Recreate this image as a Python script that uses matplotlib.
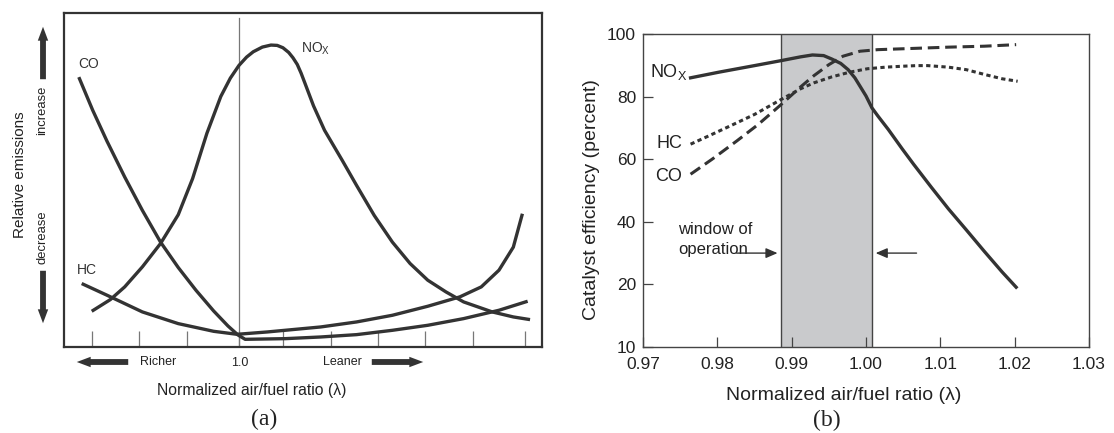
import matplotlib
matplotlib.use("Agg")
from matplotlib import pyplot as plt

plt.rcParams["font.family"] = ["Liberation Sans", "DejaVu Sans"]
plt.rcParams["mathtext.fontset"] = "custom"
plt.rcParams["mathtext.rm"] = "Liberation Sans"
plt.rcParams["mathtext.default"] = "regular"

INK = "#333333"
W, H = 1114, 433

# ---- panel (a): relative emissions, arbitrary units (0-100 of the frame)
a_ticks = [5.8, 15.7, 25.7, 36.6, 45.8, 55.8, 65.7, 75.6, 85.6, 96.5]
a_stoich = 36.6

a_co_x = [3.1, 6.0, 9.0, 12.7, 16.4, 20.2, 23.9, 27.6, 31.3, 34.3, 36.4, 37.9,
          46.3, 53.7, 61.2, 68.7, 76.1, 83.6, 91.0, 97.0]
a_co_y = [80.8, 70.9, 61.6, 50.9, 40.9, 31.4, 23.8, 17.0, 10.8, 6.3, 3.6, 2.3,
          2.5, 3.0, 3.7, 5.0, 6.5, 8.5, 11.0, 13.7]

a_hc_x = [3.7, 9.0, 16.4, 23.9, 31.3, 36.2, 42.5, 53.7, 61.2, 68.7, 76.1,
          82.8, 87.3, 91.0, 94.0, 95.9]
a_hc_y = [19.0, 15.5, 10.5, 7.0, 4.7, 3.8, 4.5, 6.0, 7.5, 9.5, 12.2,
          15.0, 18.0, 23.0, 29.9, 39.9]

a_nox_x = [5.8, 9.7, 12.7, 16.4, 20.2, 23.9, 26.9, 29.9, 32.8, 34.8, 36.6,
           38.2, 39.6, 41.5, 43.3, 44.6, 45.8, 47.0, 47.9, 48.8, 49.6, 50.4,
           52.2, 54.5, 58.2, 61.2, 64.9, 68.7, 72.4, 76.1, 79.9, 83.6, 89.6,
           94.0, 97.5]
a_nox_y = [10.7, 14.2, 18.0, 24.0, 31.0, 39.6, 50.4, 64.0, 75.0, 80.5, 84.3,
           86.8, 88.4, 89.8, 90.4, 90.3, 89.6, 88.2, 86.6, 84.6, 82.0, 79.0,
           72.2, 64.9, 55.9, 48.4, 39.4, 31.4, 25.0, 20.0, 16.5, 13.5, 10.5,
           9.0, 8.2]

# ---- panel (b): catalyst efficiency vs lambda
b_nox_x = [0.9764, 0.9802, 0.9850, 0.9886, 0.9912, 0.9928, 0.9943, 0.9954,
           0.9966, 0.9976, 0.9985, 0.9992, 1.0000, 1.0008, 1.0016, 1.0030,
           1.0049, 1.0064, 1.0088, 1.0111, 1.0135, 1.0159, 1.0183, 1.0202]
b_nox_y = [86.0, 87.8, 89.9, 91.5, 92.7, 93.3, 93.1, 92.0, 90.6, 88.6, 86.0,
           83.3, 80.2, 76.4, 73.8, 69.5, 63.2, 58.4, 51.0, 44.1, 37.4, 30.6,
           24.0, 19.1]

b_hc_x = [0.9764, 0.9788, 0.9817, 0.9850, 0.9886, 0.9912, 0.9930, 0.9954,
          0.9978, 1.0002, 1.0026, 1.0049, 1.0068, 1.0083, 1.0111, 1.0135,
          1.0159, 1.0183, 1.0204]
b_hc_y = [64.8, 67.4, 70.6, 74.3, 79.1, 82.5, 84.4, 86.3, 87.8, 88.9, 89.4,
          89.7, 89.9, 89.9, 89.4, 88.6, 87.1, 85.7, 84.9]

b_co_x = [0.9764, 0.9793, 0.9826, 0.9855, 0.9886, 0.9912, 0.9930, 0.9950,
          0.9969, 0.9992, 1.0016, 1.0064, 1.0111, 1.0159, 1.0202]
b_co_y = [55.2, 60.0, 65.8, 71.1, 77.5, 83.1, 86.7, 90.2, 92.9, 94.5, 95.0,
          95.4, 95.8, 96.1, 96.6]

b_window = (0.9886, 1.0008)
b_yticks = [0, 20, 40, 60, 80, 100]
b_ytick_labels = ["10", "20", "40", "60", "80", "100"]
b_xticks = [0.97, 0.98, 0.99, 1.00, 1.01, 1.02, 1.03]


def fxy(px, py):
    """pixel position in the 1114x433 picture -> figure fraction"""
    return px / W, 1 - py / H


def block_arrow(fig, p0, p1):
    fig.add_artist(matplotlib.patches.FancyArrowPatch(
        fxy(*p0), fxy(*p1), transform=fig.transFigure,
        arrowstyle="simple,head_length=1.0,head_width=0.75,tail_width=0.42",
        mutation_scale=10, color=INK, lw=0))


fig = plt.figure(figsize=(W / 100, H / 100), dpi=100)

# ---------------- (a)
ax = fig.add_axes([64 / W, 1 - 347 / H, (542 - 64) / W, (347 - 13) / H])
ax.set_xlim(0, 100)
ax.set_ylim(0, 100)
for s in ax.spines.values():
    s.set_color(INK)
    s.set_linewidth(1.6)
ax.set_xticks(a_ticks)
ax.set_xticklabels([])
ax.set_yticks([])
ax.tick_params(axis="x", direction="in", length=11.5, width=0.9,
               color="#777777")
ax.axvline(a_stoich, ymax=0.986, color="#777777", lw=0.9)
for xs, ys in [(a_co_x, a_co_y), (a_hc_x, a_hc_y), (a_nox_x, a_nox_y)]:
    ax.plot(xs, ys, color=INK, lw=2.4, solid_capstyle="butt",
            solid_joinstyle="round")
ax.text(3.0, 84.8, "CO", fontsize=10, va="center", ha="left", color=INK)
ax.text(2.6, 23.2, "HC", fontsize=10, va="center", ha="left", color=INK)
ax.text(49.6, 89.3, "NO$_{X}$", fontsize=10, va="center", ha="left",
        color=INK)

fig.text(*fxy(20, 175), "Relative emissions", rotation=90, fontsize=11,
         ha="center", va="center", color="#222222")
fig.text(*fxy(42, 110), "increase", rotation=90, fontsize=9.4,
         ha="center", va="center", color="#222222")
fig.text(*fxy(42, 237), "decrease", rotation=90, fontsize=9.4,
         ha="center", va="center", color="#222222")
block_arrow(fig, (43, 82), (43, 24))
block_arrow(fig, (43, 268), (43, 326))
block_arrow(fig, (131, 362), (74, 362))
block_arrow(fig, (369, 362), (426, 362))
fig.text(*fxy(158, 362), "Richer", fontsize=9, ha="center", va="center",
         color="#222222")
fig.text(*fxy(240, 363), "1.0", fontsize=9, ha="center", va="center",
         color="#222222")
fig.text(*fxy(342, 362), "Leaner", fontsize=9, ha="center", va="center",
         color="#222222")
fig.text(*fxy(252, 391), "Normalized air/fuel ratio (\u03bb)", fontsize=11.3,
         ha="center", va="center", color="#222222")
fig.text(*fxy(264, 419), "(a)", fontsize=17, ha="center", va="center",
         family="Liberation Serif", color="#222222")

# ---------------- (b)
bx = fig.add_axes([643 / W, 1 - 347 / H, (1089 - 643) / W, (347 - 34) / H])
bx.set_xlim(0.97, 1.03)
bx.set_ylim(0, 100)
for s in bx.spines.values():
    s.set_color("#444444")
    s.set_linewidth(1.0)
bx.set_xticks(b_xticks)
bx.set_xticklabels(["%.2f" % v for v in b_xticks])
bx.set_yticks(b_yticks)
bx.set_yticklabels(b_ytick_labels)
bx.tick_params(direction="in", length=7, width=0.9, color="#444444",
               labelsize=12.5, labelcolor="#222222")
bx.tick_params(axis="x", pad=7)
bx.tick_params(axis="y", pad=5)
bx.axvspan(*b_window, color="#c9cacc", lw=0)
for xv in b_window:
    bx.axvline(xv, color="#444444", lw=1.0)
bx.plot(b_nox_x, b_nox_y, color=INK, lw=2.4)
bx.plot(b_hc_x, b_hc_y, color=INK, lw=2.2, dashes=(1.4, 1.1))
bx.plot(b_co_x, b_co_y, color=INK, lw=2.2, dashes=(3.8, 1.9))
bx.text(0.9760, 87.7, "NO$_{X}$", fontsize=13, ha="right", va="center",
        color="#222222")
bx.text(0.9753, 65.0, "HC", fontsize=13, ha="right", va="center",
        color="#222222")
bx.text(0.9753, 54.4, "CO", fontsize=13, ha="right", va="center",
        color="#222222")
bx.text(0.9747, 37.6, "window of", fontsize=12, ha="left", va="center",
        color="#222222")
bx.text(0.9747, 31.2, "operation", fontsize=12, ha="left", va="center",
        color="#222222")
bx.annotate("", xy=(0.9881, 30), xytext=(0.9826, 30),
            arrowprops=dict(arrowstyle="-|>,head_length=0.7,head_width=0.3",
                            color=INK, lw=1.0, shrinkA=0, shrinkB=0))
bx.annotate("", xy=(1.0013, 30), xytext=(1.0068, 30),
            arrowprops=dict(arrowstyle="-|>,head_length=0.7,head_width=0.3",
                            color=INK, lw=1.0, shrinkA=0, shrinkB=0))
bx.set_ylabel("Catalyst efficiency (percent)", fontsize=14, color="#222222")
bx.yaxis.set_label_coords(-0.097, 0.47)
bx.set_xlabel("Normalized air/fuel ratio (\u03bb)", fontsize=14,
              color="#222222")
bx.xaxis.set_label_coords(0.45, -0.127)
fig.text(*fxy(827, 420), "(b)", fontsize=17, ha="center", va="center",
         family="Liberation Serif", color="#222222")

fig.savefig("out.png", dpi=100)
